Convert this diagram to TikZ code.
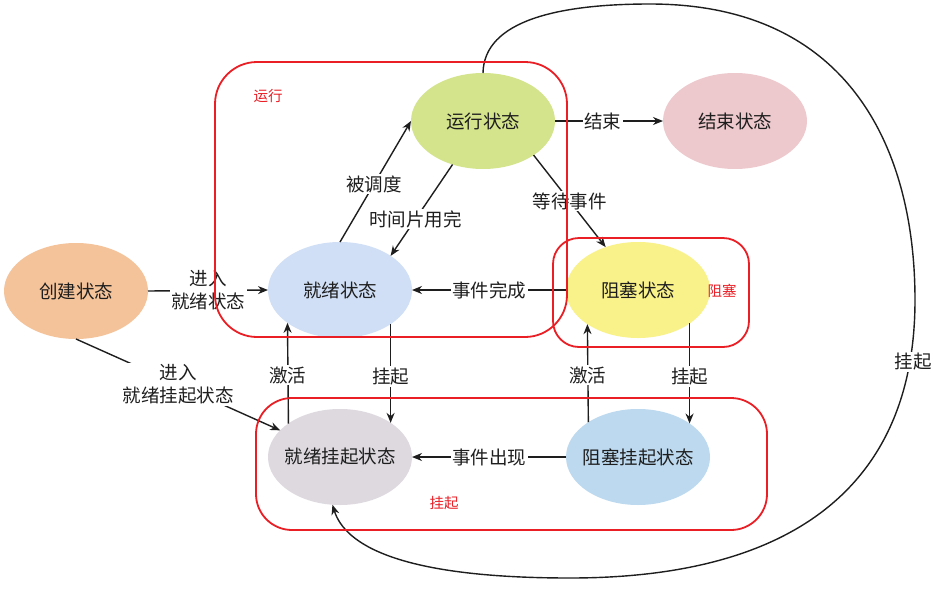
\documentclass[tikz,border=0pt]{standalone}
\usepackage{fontspec}
\newfontfamily\cjk{Noto Sans CJK SC}
\usetikzlibrary{shapes.geometric,arrows.meta}
\definecolor{cCreate}{HTML}{F4C39A}
\definecolor{cReady}{HTML}{D0DFF5}
\definecolor{cRun}{HTML}{D3E48C}
\definecolor{cEnd}{HTML}{EDC9CD}
\definecolor{cBlock}{HTML}{F9F18A}
\definecolor{cRsus}{HTML}{DDD9DF}
\definecolor{cBsus}{HTML}{BCD9EF}
\definecolor{txt}{HTML}{1E1E1E}
\definecolor{myred}{HTML}{EA1E25}
\newcommand{\cl}[1]{\makebox[0pt][c]{#1}}
\begin{document}
\begin{tikzpicture}[x=1pt,y=-1pt,
  state/.style={ellipse,inner sep=0pt,outer sep=0pt,minimum width=144pt,minimum height=96pt,font=\cjk\fontsize{18.5}{22}\selectfont,text=txt},
  arr/.style={draw=txt,line width=1.4pt,-{Stealth[length=10pt,width=8pt]}},
  lab/.style={fill=white,inner sep=1.5pt,font=\cjk\fontsize{18.5}{23}\selectfont,text=txt,align=center},
  redbox/.style={draw=myred,line width=1.8pt},
  redlab/.style={font=\cjk\fontsize{14.5}{17}\selectfont,text=myred}]
\fill[white] (0,0) rectangle (935,600);
\useasboundingbox (0,0) rectangle (935,600);

% states
\node[state,fill=cCreate] (create) at (76,291) {\cl{创建状态}};
\node[state,fill=cReady] (ready) at (340,290) {\cl{就绪状态}};
\node[state,fill=cRun] (run) at (483,121) {\cl{运行状态}};
\node[state,fill=cEnd] (end) at (735,121) {\cl{结束状态}};
\node[state,fill=cBlock] (block) at (638,290) {\cl{阻塞状态}};
\node[state,fill=cRsus] (rsus) at (340,457) {\cl{就绪挂起状态}};
\node[state,fill=cBsus] (bsus) at (638,457) {\cl{阻塞挂起状态}};

% transitions
\draw[arr] (create.east) -- node[lab,pos=0.5] {进入\\就绪状态} (ready.west);
\draw[arr] (create.south) -- node[lab,pos=0.5] {进入\\就绪挂起状态} (rsus.156);
\draw[arr] (ready.north) -- node[lab,pos=0.48] {被调度} (run.west);
\draw[arr] (run.235.5) -- node[lab,pos=0.6] {时间片用完} (ready.34.6);
\draw[arr] (run.east) -- node[lab,pos=0.44] {结束} (end.west);
\draw[arr] (run.-34.6) -- node[lab,pos=0.5] {等待事件} (block.127.7);
\draw[arr] (block.west) -- node[lab,pos=0.5] {事件完成} (ready.east);
\draw[arr] (ready.-34.6) -- node[lab,pos=0.53] {挂起} (rsus.34.6);
\draw[arr] (rsus.147.4) -- node[lab,pos=0.48] {激活} (ready.212.6);
\draw[arr] (block.-33.6) -- node[lab,pos=0.53] {挂起} (bsus.33.6);
\draw[arr] (bsus.145.4) -- node[lab,pos=0.48] {激活} (block.214.6);
\draw[arr] (bsus.west) -- node[lab,pos=0.5] {事件出现} (rsus.east);

% big suspend curve
\coordinate (c1) at (650,4);
\coordinate (c2) at (915,300);
\coordinate (c3) at (570,578);
\draw[arr] (run.north) .. controls (484,20) and (560,4) .. (c1)
  .. controls (850,4) and (915,150) .. (c2)
  .. controls (915,480) and (800,578) .. (c3)
  .. controls (400,578) and (345,545) .. (rsus.261.7);
\node[lab] (lsus) at (913,362) {挂起};

% red groups
\draw[redbox,rounded corners=42pt] (215,62) rectangle (567,337);
\draw[redbox,rounded corners=26pt] (553,238) rectangle (749,347);
\draw[redbox,rounded corners=36pt] (256,398) rectangle (767,530);
\node[redlab] (gRun) at (268,96) {运行};
\node[redlab] (gBlock) at (722,291) {阻塞};
\node[redlab] (gSus) at (444,503) {挂起};
\end{tikzpicture}
\end{document}
